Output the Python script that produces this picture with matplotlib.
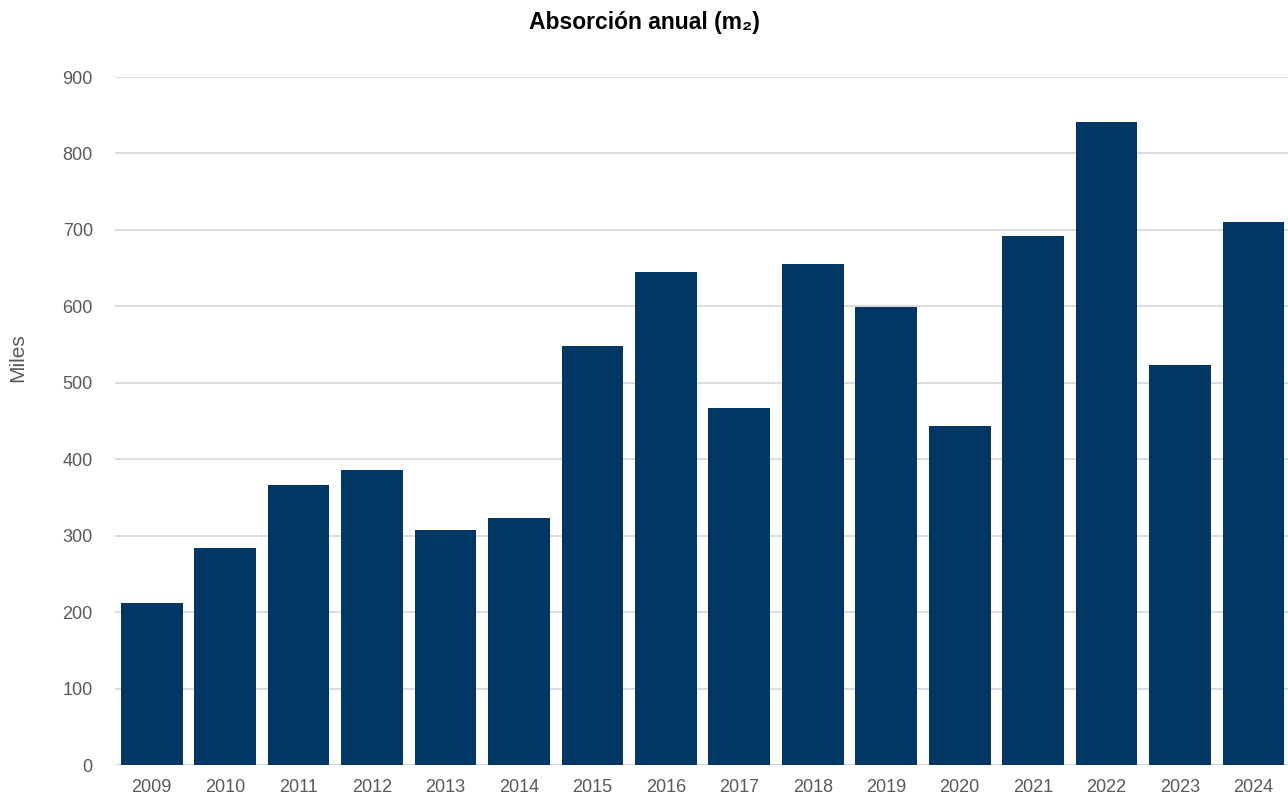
import matplotlib.pyplot as plt

years = ["2009", "2010", "2011", "2012", "2013", "2014", "2015", "2016",
         "2017", "2018", "2019", "2020", "2021", "2022", "2023", "2024"]
absorcion = [212, 284, 366, 386, 307, 323, 548, 645,
             467, 655, 599, 443, 692, 841, 523, 710]
y_ticks = [0, 100, 200, 300, 400, 500, 600, 700, 800, 900]

plt.rcParams['font.family'] = ['Liberation Sans', 'DejaVu Sans']

fig = plt.figure(figsize=(12.88, 8.0), dpi=100)
ax = fig.add_axes([115 / 1288, 1 - 765 / 800, 1 - 115 / 1288, (765 - 77) / 800])

x = list(range(len(years)))
ax.bar(x, absorcion, width=0.84, color="#003764", zorder=3)

ax.set_xlim(-0.5, 15.47)
ax.set_ylim(0, 900)
ax.set_yticks(y_ticks)
ax.set_xticks(x)
ax.set_xticklabels(years)
ax.grid(axis="y", color="#d9d9d9", linewidth=1.3, zorder=0)
ax.tick_params(axis="both", length=0, labelsize=13, colors="#595959")
ax.tick_params(axis="y", pad=16)
ax.tick_params(axis="x", pad=10)
for s in ax.spines.values():
    s.set_visible(False)

fig.text(18 / 1288, 1 - 358 / 800, "Miles", rotation=90, ha="center", va="center",
         fontsize=15, color="#595959")
fig.text(0.5, 1 - 22 / 800, "Absorción anual (m₂)", ha="center", va="center",
         fontsize=16.5, fontweight="bold", color="black")

fig.savefig("out.png", dpi=100)
